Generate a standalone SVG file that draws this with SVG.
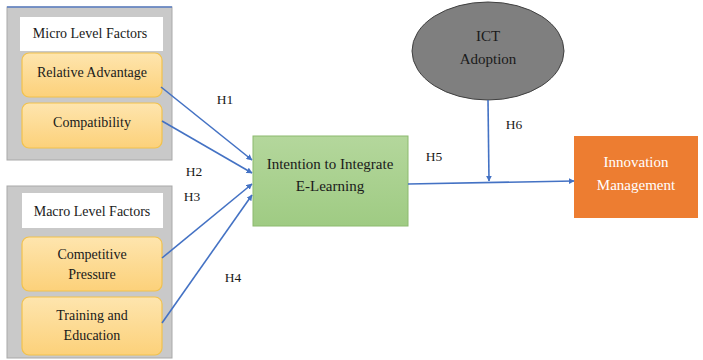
<svg xmlns="http://www.w3.org/2000/svg" width="703" height="360" viewBox="0 0 703 360" font-family="'Liberation Serif', 'DejaVu Serif', serif">
<style>
text{font-family:'Liberation Serif','DejaVu Serif',serif;fill:#1a1a1a;text-anchor:middle}
.lbl{font-size:14px;font-family:'Liberation Serif','DejaVu Serif',serif}
.big{font-size:15px;font-family:'Liberation Serif','DejaVu Serif',serif}
.h{font-size:13.5px;font-family:'Liberation Serif','DejaVu Serif',serif}
.panel{fill:#c9c9c9;stroke:#a9a9a9;stroke-width:1}
.white{fill:#ffffff}
.factor{fill:url(#og);stroke:#f2c24c;stroke-width:1.2}
.conn{stroke:#4472c4;stroke-width:1.6;fill:none;marker-end:url(#ah)}
</style>
<defs>
<linearGradient id="og" x1="0" y1="0" x2="0" y2="1">
<stop offset="0" stop-color="#fee5ae"/>
<stop offset="1" stop-color="#fcd17a"/>
</linearGradient>
<linearGradient id="gg" x1="0" y1="0" x2="0" y2="1">
<stop offset="0" stop-color="#b4d79c"/>
<stop offset="1" stop-color="#9fcb83"/>
</linearGradient>
<marker id="ah" viewBox="0 0 10 10" refX="9" refY="5" markerWidth="6" markerHeight="6" orient="auto" markerUnits="userSpaceOnUse">
<path d="M0,0 L10,5 L0,10 z" fill="#4472c4"/>
</marker>
</defs>

<g id="micro-panel">
<rect class="panel" x="7" y="7" width="165" height="153"/>
<line x1="7" y1="7" x2="172" y2="7" stroke="#5b7fc4" stroke-width="1.5"/>
<rect class="white" x="20" y="17" width="143" height="34"/>
<text class="lbl" x="90" y="38">Micro Level Factors</text>
</g>
<g id="relative-advantage">
<rect class="factor" x="22" y="53" width="140" height="44" rx="7"/>
<text class="lbl" x="92" y="77">Relative Advantage</text>
</g>
<g id="compatibility">
<rect class="factor" x="22" y="103" width="140" height="45" rx="7"/>
<text class="lbl" x="92" y="127">Compatibility</text>
</g>

<g id="macro-panel">
<rect class="panel" x="7" y="186" width="165" height="172"/>
<rect class="white" x="22" y="193" width="141" height="35"/>
<text class="lbl" x="92" y="216">Macro Level Factors</text>
</g>
<g id="competitive-pressure">
<rect class="factor" x="22" y="237" width="140" height="54" rx="7"/>
<text class="lbl" x="92" y="259">Competitive</text>
<text class="lbl" x="92" y="279">Pressure</text>
</g>
<g id="training-education">
<rect class="factor" x="22" y="297" width="140" height="58" rx="7"/>
<text class="lbl" x="92" y="320">Training and</text>
<text class="lbl" x="92" y="340">Education</text>
</g>

<g id="intention">
<rect x="253" y="136" width="155" height="90" fill="url(#gg)" stroke="#8cba6e" stroke-width="1"/>
<text class="big" x="330" y="169">Intention to Integrate</text>
<text class="big" x="330" y="191">E-Learning</text>
</g>

<g id="ict-adoption">
<ellipse cx="488" cy="51" rx="76" ry="49" fill="#7f7f7f" stroke="#404040" stroke-width="1"/>
<text class="big" x="488" y="41">ICT</text>
<text class="big" x="488" y="64">Adoption</text>
</g>

<g id="innovation-management">
<rect x="574" y="136" width="124" height="82" fill="#ed7d31"/>
<text class="big" x="636" y="167" fill="#ffffff" style="fill:#ffffff">Innovation</text>
<text class="big" x="636" y="190" fill="#ffffff" style="fill:#ffffff">Management</text>
</g>

<g id="connectors">
<line class="conn" x1="161" y1="87" x2="252" y2="160"/>
<line class="conn" x1="162" y1="121" x2="252" y2="173"/>
<line class="conn" x1="162" y1="258" x2="252" y2="184"/>
<line class="conn" x1="162" y1="323" x2="252" y2="195"/>
<line class="conn" x1="408" y1="184" x2="574" y2="181"/>
<line class="conn" x1="488" y1="100" x2="489" y2="181"/>
</g>

<g id="labels">
<text class="h" x="225" y="104">H1</text>
<text class="h" x="194" y="176">H2</text>
<text class="h" x="192" y="201">H3</text>
<text class="h" x="233" y="282">H4</text>
<text class="h" x="434" y="161">H5</text>
<text class="h" x="514" y="129">H6</text>
</g>
</svg>
